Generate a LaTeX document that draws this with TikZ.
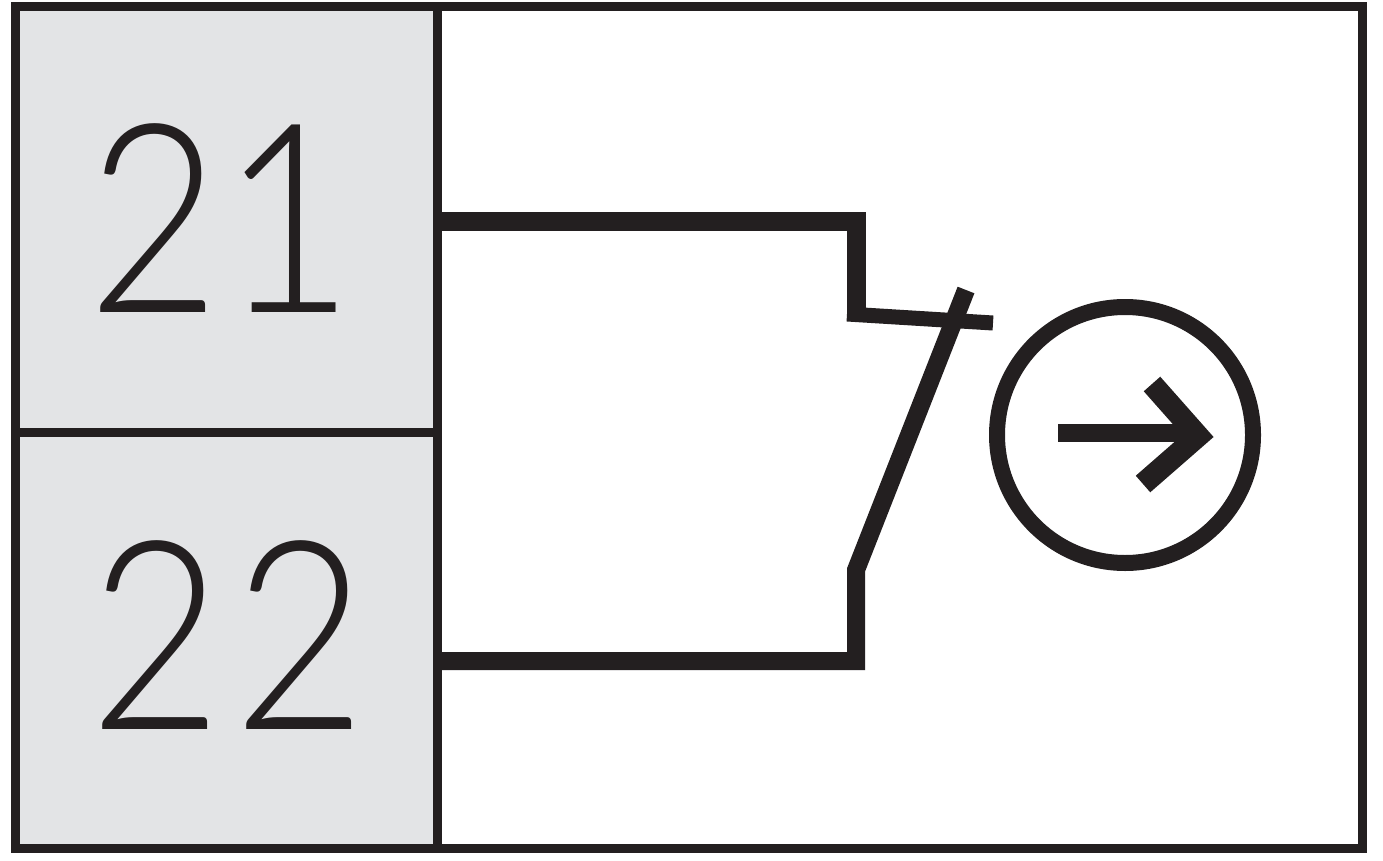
\documentclass[tikz,border=0pt]{standalone}
\usepackage{graphicx}
\usepackage{fontspec}
\newfontfamily\numfont{Lato Light}
\definecolor{ink}{HTML}{231F20}
\definecolor{panel}{HTML}{E3E4E6}
\tikzset{
 frameline/.style={draw=ink,line width=9pt},
 wire/.style={draw=ink,line width=19pt,line join=miter},
 num/.style={font=\numfont\fontsize{264pt}{264pt}\selectfont,text=ink,inner sep=0pt,anchor=center},
}
\begin{document}
\begin{tikzpicture}[x=1pt,y=-1pt]
\useasboundingbox (0,0) rectangle (1383,861);
\fill[white] (0,0) rectangle (1383,861);
\fill[panel] (15,8) rectangle (437,848);
\draw[frameline] (15,7) rectangle (1362,848);
\draw[frameline] (437,7) -- (437,848);
\draw[frameline] (15,432) -- (437,432);
\node[num] (a) at (221,218) {\scalebox{.87}[1]{21}};
\node[num] (b) at (228,635) {\scalebox{.87}[1]{\addfontfeature{LetterSpace=4.8}22}};
\draw[wire] (437,221) -- (856,221) -- (856,321);
\draw[wire,line width=15pt] (847,314) -- (993,323);
\draw[wire,line width=18pt] (437,661) -- (856,661) -- (856,570) -- (966,290);
\node[draw=ink,line width=16pt,circle,minimum size=256pt,inner sep=0pt] (c) at (1125,435) {};
\coordinate (s) at (1058,433);
\coordinate (e) at (1195,433);
\draw[draw=ink,line width=18pt] (s) -- (e);
\draw[draw=ink,line width=22pt] (1152,384) -- (1198,436) -- (1143,484);
\end{tikzpicture}
\end{document}
